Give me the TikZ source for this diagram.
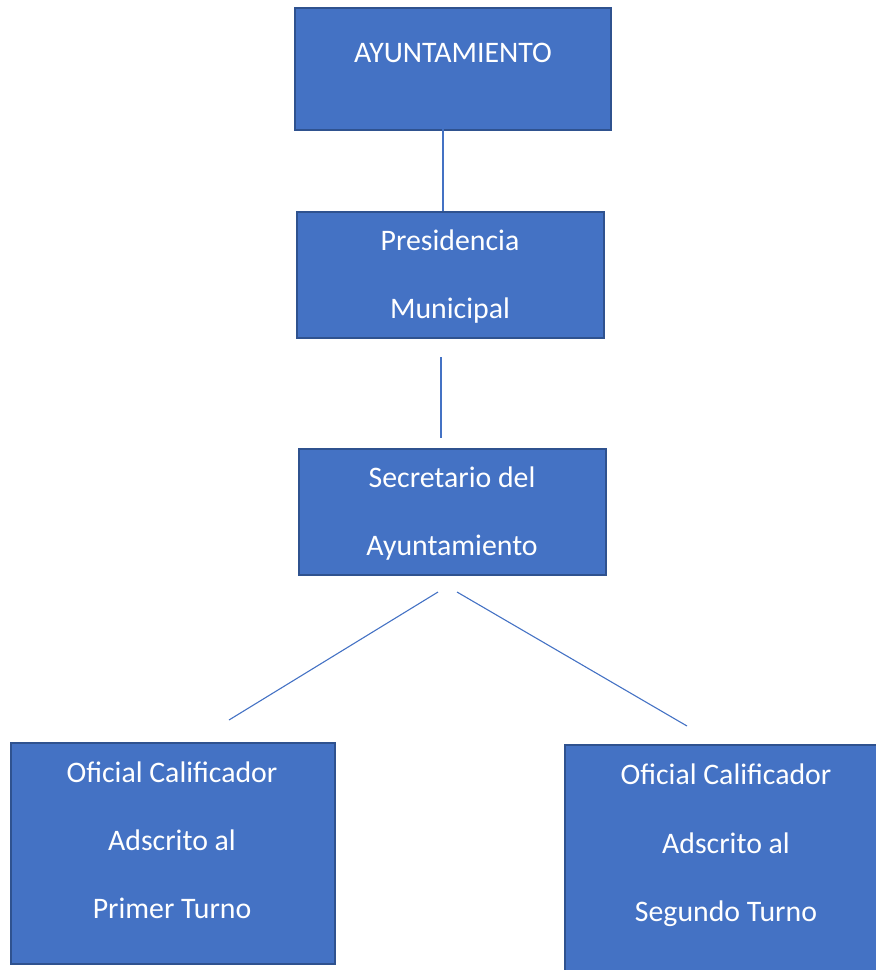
\documentclass[tikz,border=0pt]{standalone}
\usepackage{fontspec}
\setmainfont{Carlito}
\definecolor{boxfill}{HTML}{4472C4}
\definecolor{boxline}{HTML}{2F528F}
\tikzset{
  orgbox/.style={draw=boxline, line width=2pt, fill=boxfill, anchor=north west, inner sep=0pt},
  lbl/.style={text=white, font=\fontsize{29.8}{34}\selectfont, inner sep=0pt, anchor=base},
  conn/.style={draw=boxfill, line width=1.1pt}
}
\begin{document}
\begin{tikzpicture}[x=1pt,y=-1pt]
\useasboundingbox (0,0) rectangle (876,970);
\clip (0,0) rectangle (876,970);
% boxes
\node[orgbox, minimum width=316pt, minimum height=122pt] (ayto) at (294,7) {};
\node[orgbox, minimum width=307pt, minimum height=126pt] (pres) at (296,211) {};
\node[orgbox, minimum width=307pt, minimum height=126pt] (secr) at (298,448) {};
\node[orgbox, minimum width=324pt, minimum height=221pt] (ofa) at (10,742) {};
\node[orgbox, minimum width=320pt, minimum height=235pt] (ofb) at (564,744) {};
% texts
\node[lbl] (t1) at (453,62) {AYUNTAMIENTO};
\node[lbl] (t2a) at (450,250) {Presidencia};
\node[lbl] (t2b) at (450,318) {Municipal};
\node[lbl] (t3a) at (452,487) {Secretario del};
\node[lbl] (t3b) at (452,555) {Ayuntamiento};
\node[lbl] (t4a) at (172,782) {Oficial Calificador};
\node[lbl] (t4b) at (172,850) {Adscrito al};
\node[lbl] (t4c) at (172,918) {Primer Turno};
\node[lbl] (t5a) at (726,784) {Oficial Calificador};
\node[lbl] (t5b) at (726,853) {Adscrito al};
\node[lbl] (t5c) at (726,921) {Segundo Turno};
% connector ends
\coordinate (c1a) at (443,129);
\coordinate (c1b) at (443,211);
\coordinate (c2a) at (441,357);
\coordinate (c2b) at (441,438);
\coordinate (c3a) at (438,592);
\coordinate (c3b) at (229,720);
\coordinate (c4a) at (457,592);
\coordinate (c4b) at (687,726);
\draw[conn] (c1a) -- (c1b);
\draw[conn] (c2a) -- (c2b);
\draw[conn] (c3a) -- (c3b);
\draw[conn] (c4a) -- (c4b);
\end{tikzpicture}
\end{document}
